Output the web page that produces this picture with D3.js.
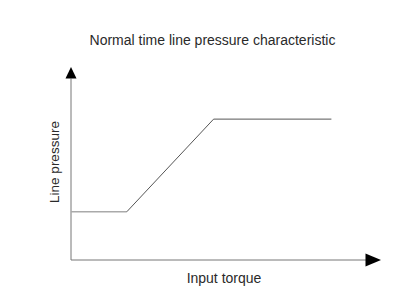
<!DOCTYPE html>
<html>
<head>
<meta charset="utf-8">
<script src="https://cdn.jsdelivr.net/npm/d3@7"></script>
<style>
  body { margin: 0; background: #fff; }
  text { font-family: "Liberation Sans", Arial, sans-serif; fill: #2a2a2a; }
</style>
</head>
<body>
<svg id="chart" width="402" height="303"></svg>
<script>
const title = "Normal time line pressure characteristic";
const xLabel = "Input torque";
const yLabel = "Line pressure";
const torque = [0, 18, 46, 84];
const pressure = [25, 25, 73, 73];

const svg = d3.select("#chart");
const x = d3.scaleLinear().domain([0, 100]).range([71, 381]);
const y = d3.scaleLinear().domain([0, 100]).range([260, 67]);

// axes as plain lines with arrow heads
svg.append("line")
  .attr("x1", x(0)).attr("y1", y(0))
  .attr("x2", x(0)).attr("y2", y(94))
  .attr("stroke", "#777").attr("stroke-width", 1);
svg.append("line")
  .attr("x1", x(0)).attr("y1", y(0))
  .attr("x2", x(96)).attr("y2", y(0))
  .attr("stroke", "#777").attr("stroke-width", 1);

svg.append("path")
  .attr("d", `M${x(0)},${y(100)} L${x(0) - 5.5},${y(94)} L${x(0) + 5.5},${y(94)} Z`)
  .attr("fill", "#000");
svg.append("path")
  .attr("d", `M${x(100)},${y(0)} L${x(95)},${y(0) - 6.5} L${x(95)},${y(0) + 6.5} Z`)
  .attr("fill", "#000");

const pts = torque.map((t, i) => [t, pressure[i]]);

// low flat part is drawn lighter
svg.append("path")
  .attr("d", d3.line().x(d => x(d[0])).y(d => y(d[1]))(pts.slice(0, 2)))
  .attr("fill", "none").attr("stroke", "#aaa").attr("stroke-width", 1.5);
svg.append("path")
  .attr("d", d3.line().x(d => x(d[0])).y(d => y(d[1]))(pts.slice(1)))
  .attr("fill", "none").attr("stroke", "#555").attr("stroke-width", 1);

svg.append("text")
  .attr("x", 212.5).attr("y", 45)
  .attr("text-anchor", "middle").attr("font-size", 14)
  .text(title);

svg.append("text")
  .attr("x", 224).attr("y", 283)
  .attr("text-anchor", "middle").attr("font-size", 14)
  .text(xLabel);

svg.append("text")
  .attr("transform", "translate(59,162) rotate(-90)")
  .attr("text-anchor", "middle").attr("font-size", 13.5)
  .text(yLabel);
</script>
</body>
</html>
